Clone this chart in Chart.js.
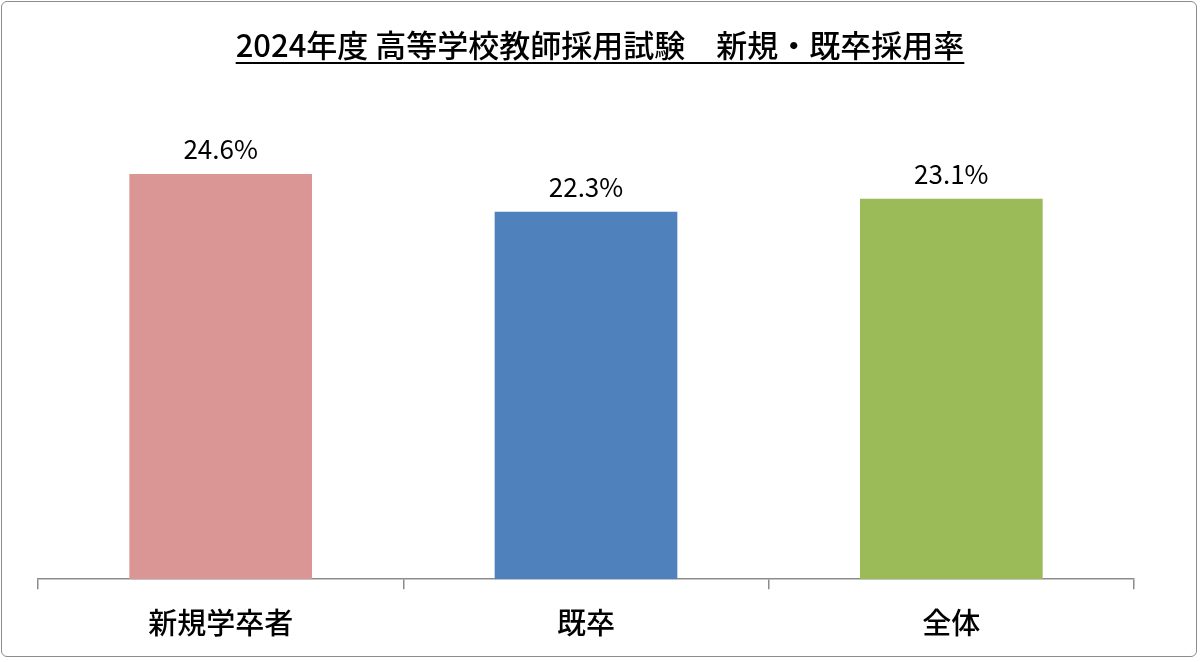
<!DOCTYPE html>
<html>
<head>
<meta charset="utf-8">
<script src="https://cdn.jsdelivr.net/npm/chart.js@4"></script>
<style>
  html, body { margin: 0; padding: 0; background: #fff; }
  #wrap { position: relative; width: 1202px; height: 662px; }
  #frame { position: absolute; left: 1px; top: 1px; width: 1196px; height: 656px; border: 1.5px solid #8c8c8c; border-radius: 6px; box-sizing: border-box; }
</style>
</head>
<body>
<div id="wrap">
  <canvas id="myChart" width="1202" height="662"></canvas>
  <div id="frame"></div>
</div>
<script>
const TITLE = "2024年度 高等学校教師採用試験　新規・既卒採用率";
const categories = ["新規学卒者", "既卒", "全体"];
const rates = [24.6, 22.3, 23.1];
const barColors = ["#d99694", "#4f81bd", "#9bbb59"];
const FONT = '"Noto Sans CJK JP", "Noto Sans", sans-serif';

// Title with underline, and value labels above bars
const decorPlugin = {
  id: "decor",
  afterDraw(chart) {
    const ctx = chart.ctx;
    ctx.save();
    ctx.fillStyle = "#000";
    ctx.font = "500 31px " + FONT;
    ctx.textAlign = "center";
    ctx.textBaseline = "alphabetic";
    const cx = 600, ty = 57;
    ctx.fillText(TITLE, cx, ty);
    const w = ctx.measureText(TITLE).width;
    ctx.fillRect(cx - w / 2, ty + 5, w, 2);

    ctx.font = "26px " + FONT;
    ctx.textBaseline = "bottom";
    const meta = chart.getDatasetMeta(0);
    meta.data.forEach((bar, i) => {
      ctx.fillText(rates[i].toFixed(1) + "%", bar.x, bar.y - 12);
    });
    ctx.restore();
  }
};

var ctx = document.getElementById("myChart").getContext("2d");
var chart = new Chart(ctx, {
  type: "bar",
  data: {
    labels: categories,
    datasets: [{
      data: rates,
      backgroundColor: barColors,
      categoryPercentage: 1.0,
      barPercentage: 0.5
    }]
  },
  options: {
    responsive: false,
    animation: false,
    layout: { padding: { left: 38, right: 68, top: 85, bottom: 6 } },
    plugins: { legend: { display: false }, tooltip: { enabled: false }, title: { display: false } },
    scales: {
      y: { display: false, min: 0, max: 30 },
      x: {
        offset: true,
        border: { color: "#8c8c8c", width: 1.5 },
        grid: { offset: true, drawOnChartArea: false, tickLength: 10, color: "#8c8c8c", lineWidth: 1.5 },
        ticks: { color: "#000", font: { family: FONT, size: 29, weight: "500" }, padding: 16 }
      }
    }
  },
  plugins: [decorPlugin]
});
</script>
</body>
</html>
